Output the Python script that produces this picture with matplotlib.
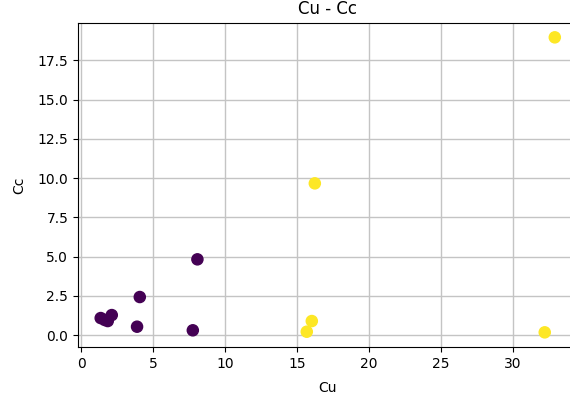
import matplotlib
matplotlib.use("Agg")
import matplotlib.pyplot as plt

# Uniformity coefficient (Cu) vs. coefficient of curvature (Cc), coloured by cluster
cu = [1.34, 1.62, 1.83, 2.11, 3.87, 4.06, 7.75, 8.07,
      16.03, 15.68, 16.24, 32.24, 32.94]
cc = [1.08, 0.96, 0.89, 1.27, 0.53, 2.42, 0.30, 4.82,
      0.89, 0.21, 9.66, 0.17, 18.96]
cluster = [0, 0, 0, 0, 0, 0, 0, 0, 1, 1, 1, 1, 1]

W, H = 570, 403
fig = plt.figure(figsize=(W / 100, H / 100), dpi=100)
ax = fig.add_axes([78 / W, 55.9 / H, 499.5 / W, 324.5 / H])

ax.scatter(cu, cc, c=cluster, cmap="viridis", s=64, zorder=3)
ax.set_title("Cu - Cc")
ax.set_xlabel("Cu", labelpad=7)
ax.set_ylabel("Cc", labelpad=8)
ax.grid(True, color="#c4c4c4", linewidth=1.0)

fig.savefig("out.png", dpi=100)
